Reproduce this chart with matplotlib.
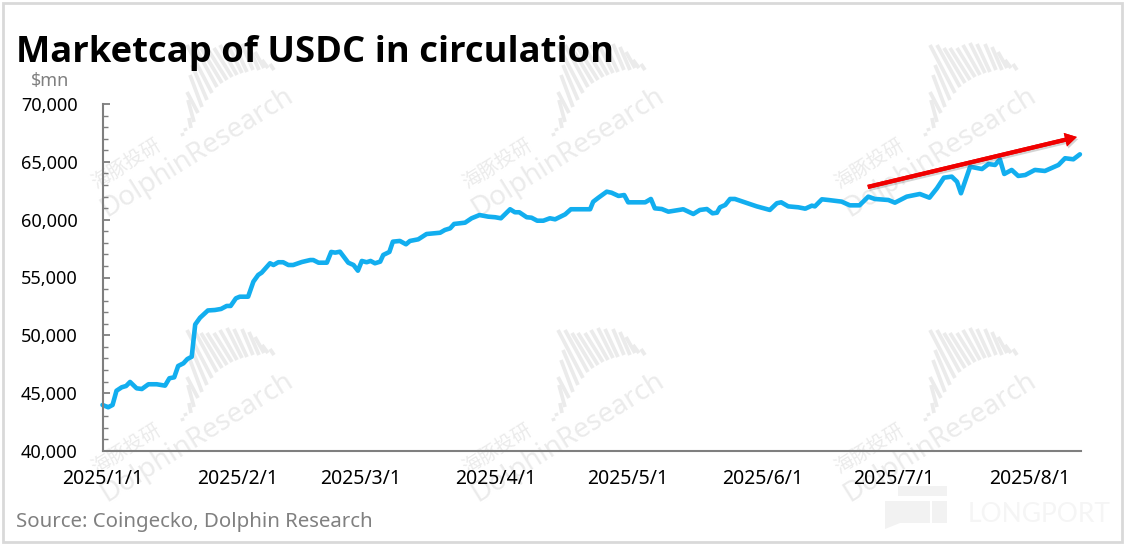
import matplotlib
matplotlib.use("Agg")
import matplotlib.pyplot as plt
import matplotlib.patheffects as pe
from matplotlib.patches import Rectangle, Polygon
from matplotlib.ticker import MultipleLocator, FuncFormatter

# days since 2025/1/1
days = [
    0, 1.3, 2.3, 3.2, 4.4, 5.4, 6.3, 7.8, 9.0, 10.5, 12.4, 14.3, 15.3, 16.4, 17.3, 18.5, 19.4, 20.4, 21.2, 22.3,
    24.1, 25.7, 27.1, 28.4, 29.3, 30.5, 31.4, 33.3, 34.5, 35.6, 36.4, 38.3, 39.1, 40.2, 41.3, 42.5, 43.6, 45.6,
    47.5, 48.2, 49.4, 51.3, 52.3, 53.2, 54.3, 56.2, 57.4, 58.4, 59.3, 60.4, 61.3, 62.3, 63.5, 64.2, 65.6, 66.4,
    68.0, 69.4, 70.3, 72.2, 74.1, 77.2, 78.3, 79.5, 80.4, 82.9, 84.4, 86.2, 88.2, 89.8, 91.1, 93.2, 94.3, 95.3,
    97.0, 98.1, 99.4, 100.8, 102.3, 103.5, 105.8, 107.1, 111.5, 112.2, 113.4, 115.3, 116.4, 118.0, 119.3, 120.2,
    124.1, 125.4, 126.3, 127.9, 129.4, 132.8, 135.1, 136.6, 138.2, 139.5, 140.5, 141.2, 142.4, 143.5, 144.6,
    149.6, 152.6, 154.2, 155.2, 156.8, 159.1, 160.7, 162.2, 162.9, 164.5, 166.0, 169.0, 170.9, 173.1, 175.1,
    176.6, 179.7, 181.2, 183.9, 186.9, 189.1, 190.8, 192.4, 194.2, 195.4, 196.3, 198.4, 201.1, 202.6, 204.1,
    205.2, 206.2, 207.9, 209.4, 211.0, 213.2, 215.5, 218.6, 220.1, 222.0, 223.5,
]
usdc = [
    43980, 43780, 43980, 45210, 45510, 45620, 45970, 45420, 45360, 45770, 45770, 45650, 46290, 46370, 47350, 47580, 47950, 48150, 50940, 51520,
    52150, 52190, 52280, 52540, 52540, 53200, 53340, 53340, 54640, 55220, 55420, 56230, 56080, 56320, 56320, 56080, 56080, 56340,
    56510, 56510, 56280, 56280, 57210, 57150, 57230, 56280, 56080, 55590, 56430, 56320, 56430, 56230, 56370, 56950, 57210, 58100,
    58160, 57870, 58160, 58300, 58760, 58870, 59110, 59250, 59630, 59740, 60120, 60400, 60260, 60210, 60120, 60900, 60640, 60640,
    60210, 60170, 59910, 59910, 60120, 60030, 60460, 60900, 60900, 61550, 61900, 62420, 62330, 62050, 62130, 61500,
    61500, 61790, 60980, 60920, 60690, 60900, 60490, 60840, 60920, 60550, 60600, 61070, 61270, 61790, 61790,
    61150, 60840, 61420, 61500, 61150, 61070, 60950, 61210, 61150, 61760, 61700, 61560, 61240, 61240, 61990,
    61790, 61700, 61470, 61990, 62220, 61900, 62710, 63630, 63720, 63280, 62280, 64580, 64380, 64810, 64730,
    65220, 63950, 64300, 63780, 63860, 64300, 64210, 64730, 65310, 65220, 65650,
]
tick_days = [0, 31, 59, 90, 120, 151, 181, 212]
tick_labels = ["2025/1/1", "2025/2/1", "2025/3/1", "2025/4/1", "2025/5/1", "2025/6/1", "2025/7/1", "2025/8/1"]
arrow_start = (175, 62830)
arrow_end = (222.8, 67150)

W, H = 1124, 544
plt.rcParams["font.family"] = ["Noto Sans", "Noto Sans CJK SC", "DejaVu Sans"]
LINE_BLUE = "#12aeef"
MARK_GREY = "#ebebeb"

# bars of the watermark logo, pixels from the logo anchor (top, bottom)
logo_bars = [
    (5, 98, 6, 101), (8, 93, 9, 96), (12, 83, 14, 93), (11, 65, 17, 87), (10, 57, 21, 78), (13, 40, 25, 72),
    (15, 30, 30, 65), (10, 10, 35, 58), (17, 10, 40, 52), (24, 13, 45, 48), (30, 13, 50, 45), (37, 13, 55, 42),
    (43, 10, 60, 40), (50, 8, 65, 38), (57, 9, 70, 37), (65, 9, 76, 35), (72, 12, 82, 35), (78, 17, 87, 33),
    (85, 25, 91, 33), (93, 29, 97, 35),
]
logo_anchors = [(177, 35), (548, 35), (920, 35), (177, 320), (548, 320), (920, 320)]

fig = plt.figure(figsize=(W / 100, H / 100), dpi=100, facecolor="white")

# background layer in pixel coordinates: frame, watermarks, footer logo
bg = fig.add_axes([0, 0, 1, 1], zorder=0)
bg.set_xlim(0, W)
bg.set_ylim(H, 0)
bg.axis("off")
bg.add_patch(Rectangle((2.5, 2.5), W - 5, H - 5, fill=False, ec="#d9d9d9", lw=2))

for ax0, ay0 in logo_anchors:
    for x0, y0, x1, y1 in logo_bars:
        bg.plot([ax0 + x0, ax0 + x1], [ay0 + y0, ay0 + y1], color=MARK_GREY, lw=2.7, solid_capstyle="butt")
    bg.text(ax0 + 20, ay0 + 117, "DolphinResearch", color=MARK_GREY, fontsize=20, rotation=32,
            ha="center", va="center", rotation_mode="anchor")
    bg.text(ax0 - 51, ay0 + 129, "海豚投研", color=MARK_GREY, fontsize=14, rotation=32,
            ha="center", va="center", rotation_mode="anchor")

bg.add_patch(Rectangle((898, 486), 49, 10, fc="#f2f2f2", ec="none"))
bg.add_patch(Rectangle((932, 501), 15, 22, fc="#f2f2f2", ec="none"))
bg.add_patch(Polygon([(885, 501), (930, 501), (930, 523), (900, 523), (885, 529)], fc="#f2f2f2", ec="none"))
bg.text(968, 515, "LONGPORT", color="#f5f5f5", fontsize=19, va="center", ha="left", family="Lato")

# main chart
ax = fig.add_axes([102.5 / W, (H - 451) / H, (1081 - 102.5) / W, 347 / H], zorder=1)
ax.patch.set_alpha(0)
ax.plot(days, usdc, color=LINE_BLUE, lw=3.3, solid_joinstyle="round", solid_capstyle="round", clip_on=False)

ax.set_xlim(0, 223.75)
ax.set_ylim(40000, 70000)
ax.set_xticks(tick_days)
ax.set_xticklabels(tick_labels)
ax.yaxis.set_major_locator(MultipleLocator(5000))
ax.yaxis.set_minor_locator(MultipleLocator(1000))
ax.yaxis.set_major_formatter(FuncFormatter(lambda v, _: f"{int(v):,}"))
ax.tick_params(axis="x", length=0, labelsize=14, pad=13, labelcolor="black")
ax.tick_params(axis="y", which="major", direction="in", length=5, width=1.3, color="#7f7f7f",
               labelsize=13, pad=18, labelcolor="black")
ax.tick_params(axis="y", which="minor", direction="in", length=3.5, width=1.0, color="#7f7f7f")
for side in ["top", "right"]:
    ax.spines[side].set_visible(False)
for side in ["left", "bottom"]:
    ax.spines[side].set_color("#7f7f7f")
    ax.spines[side].set_linewidth(1.5)

ax.annotate(
    "", xy=arrow_end, xytext=arrow_start,
    arrowprops=dict(
        arrowstyle="simple,head_length=8.5,head_width=10,tail_width=3",
        mutation_scale=1, color="#f00000", lw=0, shrinkA=0, shrinkB=0,
        path_effects=[pe.withSimplePatchShadow(offset=(1, -1.5), shadow_rgbFace="#555555", alpha=0.25), pe.Normal()],
    ),
)

fig.text(16 / W, 1 - 62 / H, "Marketcap of USDC in circulation", fontsize=26.2, fontweight="bold",
         family="Open Sans", color="black", ha="left", va="baseline", zorder=3)
fig.text(31 / W, 1 - 81 / H, "$mn", fontsize=13, color="#808080", ha="left", va="center", zorder=3)
fig.text(16 / W, 1 - 522 / H, "Source: Coingecko, Dolphin Research", fontsize=14.7, color="#808080",
         ha="left", va="center", zorder=3)

fig.savefig("out.png", dpi=100)
